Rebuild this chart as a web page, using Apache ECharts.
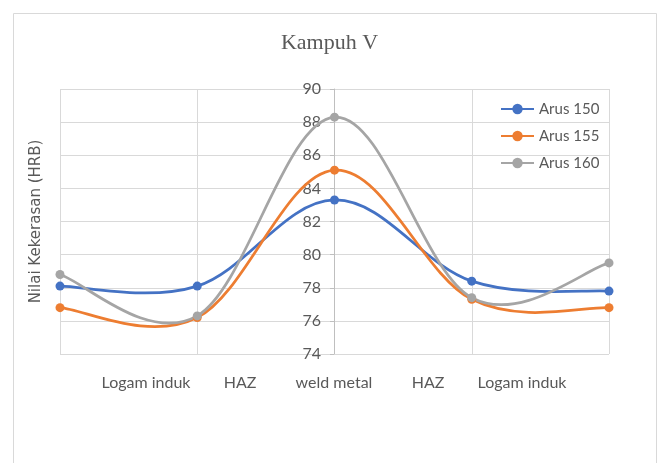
<!DOCTYPE html>
<html>
<head>
<meta charset="utf-8">
<script src="https://cdn.jsdelivr.net/npm/echarts@6/dist/echarts.min.js"></script>
<style>
html, body { margin: 0; padding: 0; background: #fff; }
#main { width: 659px; height: 463px; }
</style>
</head>
<body>
<div id="main"></div>
<script>
// posisi pengujian (sumbu x)
var posisi = ['Logam induk', 'HAZ', 'weld metal', 'HAZ', 'Logam induk'];
// nilai kekerasan per arus
var arus150 = [78.1, 78.1, 83.3, 78.4, 77.8];
var arus155 = [76.8, 76.2, 85.1, 77.3, 76.8];
var arus160 = [78.8, 76.3, 88.3, 77.4, 79.5];
var namaSeri = ['Arus 150', 'Arus 155', 'Arus 160'];
var warna = ['#4472C4', '#ED7D31', '#A5A5A5'];

var huruf = 'Lato, "Open Sans", sans-serif';
var abu = '#595959';
var tegangan = 0.18; // kehalusan kurva ala Excel

var chart = echarts.init(document.getElementById('main'));

// titik + legenda (garisnya disembunyikan, kurva digambar oleh seri custom)
function buatTitik(nama, data, i) {
	return {
		name: nama,
		type: 'line',
		xAxisIndex: 0,
		yAxisIndex: 0,
		data: data,
		symbol: 'circle',
		symbolSize: 9,
		z: 3,
		color: warna[i],
		lineStyle: { width: 2.75, color: warna[i], opacity: 0 },
		itemStyle: { color: warna[i] }
	};
}

// kurva halus (spline kardinal) lewat koordinat sumbu
function buatKurva(nama, data, i) {
	return {
		name: nama,
		type: 'custom',
		xAxisIndex: 0,
		yAxisIndex: 0,
		silent: true,
		z: 2,
		data: data.map(function(v, j) { return [j, v]; }),
		renderItem: function(params, api) {
			var k = params.dataIndex;
			if (k >= data.length - 1) return;
			var p = function(j) {
				j = Math.max(0, Math.min(data.length - 1, j));
				return api.coord([j, data[j]]);
			};
			var p0 = p(k - 1), p1 = p(k), p2 = p(k + 1), p3 = p(k + 2);
			return {
				type: 'bezierCurve',
				shape: {
					x1: p1[0], y1: p1[1],
					x2: p2[0], y2: p2[1],
					cpx1: p1[0] + (p2[0] - p0[0]) * tegangan,
					cpy1: p1[1] + (p2[1] - p0[1]) * tegangan,
					cpx2: p2[0] - (p3[0] - p1[0]) * tegangan,
					cpy2: p2[1] - (p3[1] - p1[1]) * tegangan
				},
				style: { stroke: warna[i], lineWidth: 2.75, fill: null }
			};
		}
	};
}

chart.setOption({
	animation: false,
	title: {
		text: 'Kampuh V',
		left: 'center',
		top: 27,
		textStyle: {
			fontFamily: '"Liberation Serif", "DejaVu Serif", serif',
			fontSize: 22,
			fontWeight: 'normal',
			color: abu
		}
	},
	graphic: [{
		type: 'rect',
		silent: true,
		shape: { x: 13.5, y: 13.5, width: 643, height: 470 },
		style: { fill: 'none', stroke: '#d9d9d9', lineWidth: 1 }
	}],
	legend: {
		orient: 'vertical',
		left: 495,
		top: 96,
		itemWidth: 33,
		itemHeight: 13,
		itemGap: 11,
		data: namaSeri,
		lineStyle: { opacity: 1 },
		textStyle: { fontFamily: huruf, fontSize: 15, lineHeight: 16, color: abu }
	},
	grid: [
		// area plot utama
		{ left: 60, right: 50, top: 89, bottom: 109 },
		// sumbu y di tengah (weld metal)
		{ left: 334, width: 1, top: 89, bottom: 109 },
		// label kategori
		{ left: 99, width: 470, top: 89, bottom: 109 }
	],
	xAxis: [{
		gridIndex: 0,
		type: 'category',
		boundaryGap: false,
		data: posisi,
		axisLine: { show: false },
		axisTick: { show: false },
		axisLabel: { show: false },
		splitLine: { show: true, lineStyle: { color: '#d9d9d9', width: 1 } }
	}, {
		gridIndex: 1,
		type: 'value',
		show: false
	}, {
		gridIndex: 2,
		type: 'category',
		data: posisi,
		axisLine: { show: false },
		axisTick: { show: false },
		splitLine: { show: false },
		axisLabel: {
			margin: 21,
			fontFamily: huruf,
			fontSize: 16,
			color: abu,
			interval: 0
		}
	}],
	yAxis: [{
		gridIndex: 0,
		type: 'value',
		min: 74,
		max: 90,
		interval: 2,
		name: 'Nilai Kekerasan (HRB)',
		nameLocation: 'middle',
		nameGap: 16,
		nameTextStyle: {
			fontFamily: '"DejaVu Sans", sans-serif',
			fontSize: 15,
			color: abu
		},
		axisLine: { show: false },
		axisTick: { show: false },
		axisLabel: { show: false },
		splitLine: { show: true, lineStyle: { color: '#d9d9d9', width: 1 } }
	}, {
		gridIndex: 1,
		type: 'value',
		min: 74,
		max: 90,
		interval: 2,
		axisLine: { show: true, lineStyle: { color: '#bfbfbf', width: 1 } },
		axisTick: { show: true, length: 4, lineStyle: { color: '#bfbfbf' } },
		axisLabel: {
			margin: 13,
			fontFamily: huruf,
			fontSize: 16,
			color: abu
		},
		splitLine: { show: false }
	}, {
		gridIndex: 2,
		type: 'value',
		show: false
	}],
	series: [
		buatTitik(namaSeri[0], arus150, 0),
		buatTitik(namaSeri[1], arus155, 1),
		buatTitik(namaSeri[2], arus160, 2),
		buatKurva(namaSeri[0], arus150, 0),
		buatKurva(namaSeri[1], arus155, 1),
		buatKurva(namaSeri[2], arus160, 2)
	]
});
</script>
</body>
</html>
